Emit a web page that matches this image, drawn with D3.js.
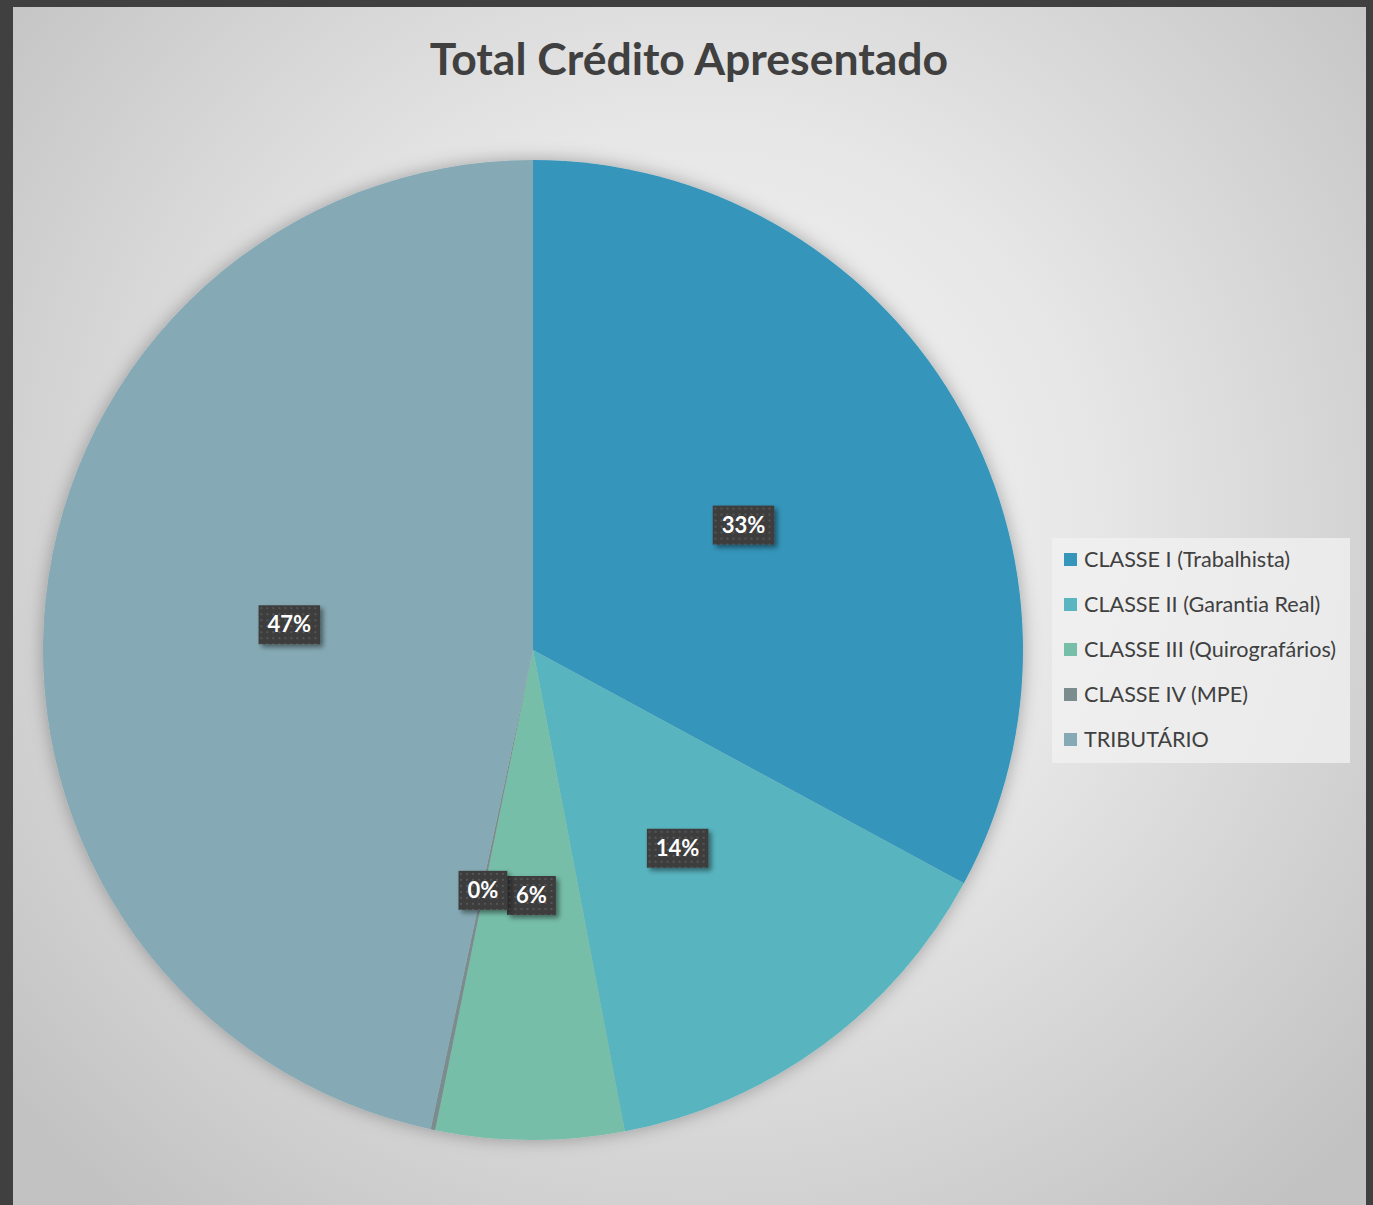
<html>
<head>
<meta charset="utf-8">
<script src="https://d3js.org/d3.v7.min.js"></script>
<style>
  body { margin: 0; background: #404040; }
  svg text { font-family: Lato, "Open Sans", sans-serif; font-variant-ligatures: none; }
</style>
</head>
<body>
<svg id="chart" width="1373" height="1205"></svg>
<script>
// data (share of total, %)
const categories = ["CLASSE I (Trabalhista)", "CLASSE II (Garantia Real)", "CLASSE III (Quirografários)", "CLASSE IV (MPE)", "TRIBUTÁRIO"];
const values = [32.9, 14.1, 6.2, 0.15, 46.65];
const colors = ["#3595bb", "#59b5c0", "#76bea8", "#7a8c8e", "#86aab5"];
const title = "Total Crédito Apresentado";

const svg = d3.select("#chart");
const panel = { left: 13, top: 7, right: 1366, bottom: 1205 };
const center = [533, 650];
const radius = 490;

const defs = svg.append("defs");

const bg = defs.append("radialGradient")
    .attr("id", "bg")
    .attr("gradientUnits", "userSpaceOnUse")
    .attr("cx", 700).attr("cy", 520).attr("r", 900);
bg.append("stop").attr("offset", "0%").attr("stop-color", "#f7f7f7");
bg.append("stop").attr("offset", "45%").attr("stop-color", "#e6e6e6");
bg.append("stop").attr("offset", "100%").attr("stop-color", "#c2c2c2");

const shadow = defs.append("filter").attr("id", "shadow")
    .attr("x", "-10%").attr("y", "-10%").attr("width", "120%").attr("height", "120%");
shadow.append("feDropShadow").attr("dx", 0).attr("dy", 0)
    .attr("stdDeviation", 9).attr("flood-color", "#000").attr("flood-opacity", 0.3);

const boxShadow = defs.append("filter").attr("id", "boxShadow")
    .attr("x", "-30%").attr("y", "-30%").attr("width", "160%").attr("height", "160%");
boxShadow.append("feDropShadow").attr("dx", 3).attr("dy", 3)
    .attr("stdDeviation", 2.5).attr("flood-color", "#000").attr("flood-opacity", 0.45);

const dots = defs.append("pattern").attr("id", "dots")
    .attr("patternUnits", "userSpaceOnUse").attr("width", 6).attr("height", 6);
dots.append("rect").attr("width", 6).attr("height", 6).attr("fill", "#3d3d3d");
dots.append("rect").attr("x", 1).attr("y", 1).attr("width", 2).attr("height", 2).attr("fill", "#555");

// panel background
svg.append("rect")
    .attr("x", panel.left).attr("y", panel.top)
    .attr("width", panel.right - panel.left).attr("height", panel.bottom - panel.top)
    .attr("fill", "url(#bg)");

svg.append("text")
    .attr("x", 689).attr("y", 75)
    .attr("text-anchor", "middle")
    .style("font-size", "44.5px").style("font-weight", "bold")
    .style("fill", "#404040")
    .text(title);

const pie = d3.pie().sort(null).value(d => d);
const arcs = pie(values);
const arc = d3.arc().innerRadius(0).outerRadius(radius);
const color = d3.scaleOrdinal().domain(categories).range(colors);
const total = d3.sum(values);

const g = svg.append("g").attr("transform", `translate(${center})`);

g.append("g").attr("filter", "url(#shadow)")
  .selectAll("path").data(arcs)
  .join("path")
    .attr("d", arc)
    .attr("fill", (d, i) => color(categories[i]));

// data labels
const labels = g.selectAll("g.label").data(arcs)
  .join("g")
    .attr("class", "label")
    .attr("transform", d => `translate(${arc.centroid(d)})`);

labels.each(function (d) {
  const sel = d3.select(this);
  const txt = Math.round(d.value / total * 100) + "%";
  const t = sel.append("text")
      .attr("text-anchor", "middle")
      .attr("dy", "0.36em")
      .style("font-size", "22px").style("font-weight", "bold")
      .style("fill", "#fff")
      .text(txt);
  const w = t.node().getComputedTextLength() + 18;
  sel.insert("rect", "text")
      .attr("x", -w / 2).attr("y", -19)
      .attr("width", w).attr("height", 39)
      .attr("fill", "url(#dots)")
      .attr("filter", "url(#boxShadow)");
});

// legend
const legend = svg.append("g").attr("transform", "translate(1052,538)");
legend.append("rect")
    .attr("width", 298).attr("height", 225)
    .attr("fill", "#f2f2f2").attr("opacity", 0.75);

const item = legend.selectAll("g.item").data(categories)
  .join("g")
    .attr("class", "item")
    .attr("transform", (d, i) => `translate(12,${21 + i * 45})`);

item.append("rect")
    .attr("x", 0).attr("y", -6)
    .attr("width", 13).attr("height", 13)
    .attr("fill", d => color(d));

item.append("text")
    .attr("x", 20).attr("dy", "0.35em")
    .style("font-size", "21.6px")
    .style("fill", "#404040")
    .text(d => d);
</script>
</body>
</html>
